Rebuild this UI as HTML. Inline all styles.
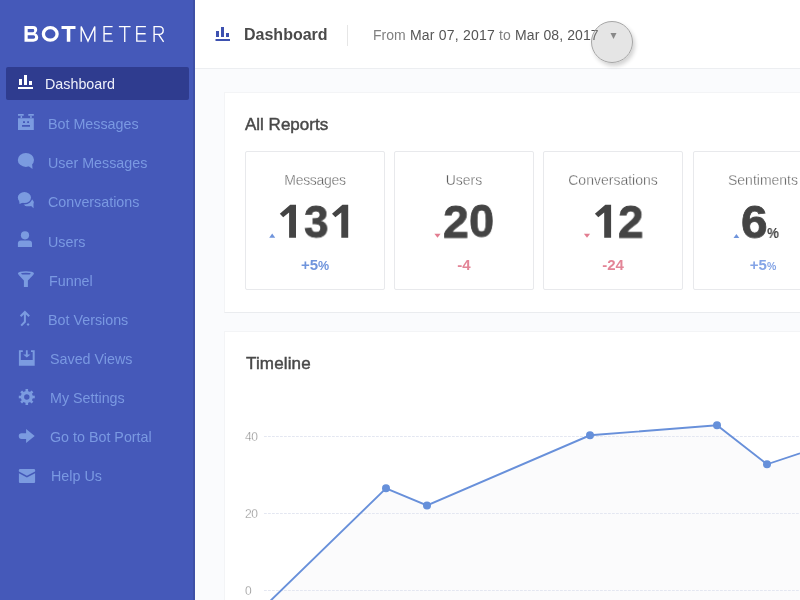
<!DOCTYPE html>
<html><head><meta charset="utf-8">
<style>
*{margin:0;padding:0;box-sizing:border-box}
html,body{width:800px;height:600px;overflow:hidden;background:#fafbfd;font-family:"Liberation Sans",sans-serif}
.a{position:absolute;white-space:nowrap}
.a,.mi,.h2,.h3,.st,.sn,.sd,.yl{will-change:transform}
#side{position:absolute;left:0;top:0;width:195px;height:600px;background:#4559b9}
#side .edge{position:absolute;right:0;top:0;width:2px;height:600px;background:#3e50a6}
.active{position:absolute;left:6px;top:67px;width:183px;height:33px;background:#2f3c8f;border-radius:2px}
.mi{position:absolute;font-size:14.3px;color:#7a99e2;white-space:nowrap;line-height:14px}
.mi.on{color:#eef0fa}
svg.ov{position:absolute;left:0;top:0}
#header{position:absolute;left:195px;top:0;width:605px;height:69px;background:#fff;border-bottom:1px solid #eceef1}
.t14{font-size:14px;line-height:14px}
.card{position:absolute;background:#fff}
.stat{position:absolute;top:151px;width:140px;height:139px;border:1px solid #e8e9ec;border-radius:2px;background:#fff}
.st{position:absolute;top:173px;width:140px;text-align:center;font-size:14px;line-height:14px;color:#555;-webkit-text-stroke:0.35px #fff}
.sn{position:absolute;top:201px;font-size:47px;line-height:40px;font-weight:bold;color:#444;-webkit-text-stroke:0.8px #444}
.sd{position:absolute;top:257.5px;width:140px;text-align:center;font-size:15px;line-height:14px;font-weight:bold}
.sd small{font-size:12.5px}
.up{color:#6f94dc}
.dn{color:#e38597}
.h2{position:absolute;font-size:16px;line-height:16px;font-weight:bold;color:#444;white-space:nowrap}
.h3{position:absolute;font-size:17px;line-height:16px;color:#484848;-webkit-text-stroke:0.45px #484848;white-space:nowrap}
.yl{position:absolute;font-size:12px;line-height:12px;color:#7a7a7a;-webkit-text-stroke:0.35px #fff;letter-spacing:-0.5px}
</style></head><body>
<div id="side">
  <div class="edge"></div>
  <div class="active"></div>
  <div class="mi on" style="left:45px;top:76.6px">Dashboard</div>
  <div class="mi" style="left:48px;top:116.5px">Bot Messages</div>
  <div class="mi" style="left:48px;top:156px">User Messages</div>
  <div class="mi" style="left:48px;top:195px">Conversations</div>
  <div class="mi" style="left:48px;top:235px">Users</div>
  <div class="mi" style="left:49px;top:274px">Funnel</div>
  <div class="mi" style="left:48px;top:312.5px">Bot Versions</div>
  <div class="mi" style="left:50px;top:352px">Saved Views</div>
  <div class="mi" style="left:50px;top:391px">My Settings</div>
  <div class="mi" style="left:50px;top:430px">Go to Bot Portal</div>
  <div class="mi" style="left:51px;top:469px">Help Us</div>
  <svg class="ov" width="195" height="600" viewBox="0 0 195 600">
    <!-- logo -->
    <g fill="#fff">
      <path fill-rule="evenodd" d="M24.5 26H33C36 26 37.2 27.6 37.2 29.6C37.2 31.2 36.4 32.4 35.3 33.5C37.1 34.1 38.2 35.5 38.2 37.6C38.2 40.2 36.4 41.75 33.3 41.75H24.5Z M27.7 29H33C33.9 29 34.2 29.7 34.2 30.6C34.2 31.6 33.9 32.25 33 32.25H27.7Z M27.7 35.25H33.5C34.5 35.25 35.1 36 35.1 37C35.1 38 34.5 38.75 33.5 38.75H27.7Z"/>
      <rect x="61.5" y="26" width="14" height="3"/>
      <rect x="66.8" y="26" width="3.5" height="15.75"/>
    </g>
    <ellipse cx="50.25" cy="33.9" rx="6.85" ry="6.3" fill="none" stroke="#fff" stroke-width="3.3"/>
    <g fill="none" stroke="#fff" stroke-width="1.35">
      <path d="M81.2 41.75V26.6L88 41.1L94.8 26.6V41.75" stroke-linejoin="miter"/>
      <path d="M112.6 26.65H104.05V41.1H112.8M104.05 33.75H111.7"/>
      <path d="M118.9 26.65H130.6M124.75 26.65V41.9"/>
      <path d="M145.9 26.65H136.8V41.1H146.2M136.8 33.75H145.6"/>
      <path d="M154.1 41.9V26.65H159.3C162 26.65 163.2 28.4 163.2 30.6C163.2 32.9 161.8 34.4 159.3 34.4H154.1M158.6 34.4L163.6 41.9"/>
    </g>
    <!-- dashboard -->
    <g fill="#fff">
      <rect x="19" y="79" width="3" height="6"/>
      <rect x="24" y="75" width="3" height="10"/>
      <rect x="29" y="81" width="3" height="4"/>
      <rect x="18" y="87" width="15" height="2"/>
    </g>
    <g fill="#7b9be0">
      <!-- robot -->
      <path fill-rule="evenodd" d="M18 114h5.7v1.7H18z M28.3 114h5.5v1.7h-5.5z M20.6 115.5h1.5v3h-1.5z M30.2 115.5h1.5v3h-1.5z M18 118.2h15.8V130H18z M23 121.2h2v1.8h-2z M27.2 121.2h1.8v1.8h-1.8z M22 125h8v1.8h-8z"/>
      <!-- user message bubble -->
      <ellipse cx="25.9" cy="159.9" rx="8.1" ry="7"/>
      <path d="M27 165 L32.5 169 L32 162z"/>
      <!-- conversations -->
      <ellipse cx="28.3" cy="202.3" rx="5.3" ry="4"/>
      <path d="M30 205 L33.6 208.3 L33.4 201z"/>
      <ellipse cx="24.4" cy="197.6" rx="7.3" ry="6.2" stroke="#4559b9" stroke-width="1.4"/>
      <path d="M19.2 200.5 L19.5 204 L23 202.5z"/>
      <!-- users -->
      <circle cx="25" cy="235.3" r="4.1"/>
      <path d="M17.9 247 V243.5 Q17.9 240.5 21 240.5 H29 Q32 240.5 32 243.5 V247z"/>
      <!-- funnel -->
      <ellipse cx="25.95" cy="273.6" rx="8.05" ry="2.45"/><path d="M18.3 274.4 L23.9 280.5 V287 H27.9 V280.5 L33.6 274.4z"/><ellipse cx="25.9" cy="273.65" rx="4.8" ry="0.85" fill="#4559b9"/>
      <!-- saved views -->
      <path d="M18.9 350.2h3.9v1.8h-2v7.9h11.9V352h-1.7v-1.8h3.7v15.6H18.9z"/>
      <path d="M25.9 350.2h1.8v4.4h2.8L26.8 357.4 23.2 354.6h2.7z"/>
      <!-- arrow -->
      <path d="M21.6 433.2 H26.1 V429 L34.7 436 L26.1 443 V438.9 H21.6 A2.85 2.85 0 0 1 21.6 433.2z"/>
      <!-- envelope -->
      <path d="M20 469.1 H34 Q35.1 469.1 35.1 470.2 V471.4 L26.9 475.8 L18.9 471.4 V470.2 Q18.9 469.1 20 469.1z"/>
      <path d="M18.9 473.2 L26.9 477.6 L35.1 473.2 V481.9 Q35.1 483 34 483 H20 Q18.9 483 18.9 481.9z"/>
    </g>
    <g stroke="#7b9be0" stroke-width="2" fill="none">
      <!-- bot versions -->
      <path d="M20.6 316.3 L24.9 312 L29.2 316.3 M24.9 312.5 V321.8 L21.2 325.6 M27.3 323.7 L28.8 325.3"/>
    </g>
    <g fill="#7b9be0" transform="translate(26.8 397)">
      <path fill-rule="evenodd" d="M0 -6.1 A6.1 6.1 0 1 1 0 6.1 A6.1 6.1 0 1 1 0 -6.1z M0 -2.7 A2.7 2.7 0 1 0 0 2.7 A2.7 2.7 0 1 0 0 -2.7z"/>
      <rect x="-1.3" y="-8" width="2.6" height="3" transform="rotate(0)"/><rect x="-1.3" y="-8" width="2.6" height="3" transform="rotate(45)"/><rect x="-1.3" y="-8" width="2.6" height="3" transform="rotate(90)"/><rect x="-1.3" y="-8" width="2.6" height="3" transform="rotate(135)"/><rect x="-1.3" y="-8" width="2.6" height="3" transform="rotate(180)"/><rect x="-1.3" y="-8" width="2.6" height="3" transform="rotate(225)"/><rect x="-1.3" y="-8" width="2.6" height="3" transform="rotate(270)"/><rect x="-1.3" y="-8" width="2.6" height="3" transform="rotate(315)"/>
    </g>
  </svg>
</div>

<div id="header"></div>
<svg class="ov" width="800" height="68" viewBox="0 0 800 68">
  <g fill="#3d51b0">
    <rect x="216" y="31" width="3" height="6"/>
    <rect x="221" y="27" width="3" height="10"/>
    <rect x="226" y="33" width="3" height="4"/>
    <rect x="215.5" y="39" width="14.5" height="2"/>
  </g>
  <rect x="347" y="25" width="1" height="21" fill="#e6e6e6"/>
</svg>
<div class="a h2" style="left:244px;top:27px;color:#4a4a4a">Dashboard</div>
<div class="a t14" style="left:373px;top:28px;color:#808080">From</div>
<div class="a t14" style="left:409.75px;top:28px;color:#555;letter-spacing:0.2px">Mar 07, 2017</div>
<div class="a t14" style="left:499px;top:28px;color:#808080">to</div>
<div class="a t14" style="left:514.5px;top:28px;color:#555;letter-spacing:0.1px">Mar 08, 2017</div>

<!-- All Reports card -->
<div class="card" style="left:224px;top:92px;width:600px;height:221px;border:1px solid #f3f4f6;border-bottom:1px solid #eaecef"></div>
<div class="h3" style="left:245px;top:117px">All Reports</div>
<div class="stat" style="left:245px"></div>
<div class="stat" style="left:394px"></div>
<div class="stat" style="left:543px"></div>
<div class="stat" style="left:693px"></div>
<div class="st" style="left:245px;letter-spacing:-0.3px">Messages</div>
<div class="st" style="left:394px">Users</div>
<div class="st" style="left:543px">Conversations</div>
<div class="st" style="left:693px">Sentiments</div>
<div class="sn" style="left:303.62px;top:202.29px;transform-origin:1px 4px;transform:scale(0.9341,0.9810)">3</div>
<div class="sn" style="left:443.24px;top:201.54px;transform-origin:1px 4px;transform:scale(0.9838,0.9866)">2</div>
<div class="sn" style="left:468.95px;top:201.35px;transform-origin:2px 4px;transform:scale(0.9574,0.9919)">0</div>
<div class="sn" style="left:618.21px;top:201.54px;transform-origin:1px 4px;transform:scale(0.9746,0.9866)">2</div>
<div class="sn" style="left:740.64px;top:201.87px;transform-origin:1px 4px;transform:scale(1.0187,0.9935)">6</div>
<div class="sn" style="left:767.4px;top:212.9px;font-size:15px;-webkit-text-stroke:0;transform-origin:0 15px;transform:scale(0.89,1)">%</div>
<svg class="ov" width="800" height="300" viewBox="0 0 800 300"><g fill="#444"><path d="M290.25 204.85H296V237.8H289.1V212.4L283.2 217.2L279.8 213.7Z"/><path d="M342.45 204.85H348.2V237.8H341.3V212.4L335.4 217.2L332.0 213.7Z"/><path d="M605.35 204.85H611.1V237.8H604.2V212.4L598.3000000000001 217.2L594.9 213.7Z"/></g></svg>
<div class="sd up" style="left:245px">+5<small>%</small></div>
<div class="sd dn" style="left:394px">-4</div>
<div class="sd dn" style="left:543px">-24</div>
<div class="sd" style="left:693px;color:#84a4e6">+5<small style="font-size:10.5px">%</small></div>
<svg class="ov" width="800" height="300" viewBox="0 0 800 300">
  <path d="M269.2 237.7L272.2 233.6L275.2 237.7z" fill="#6f94dc"/>
  <path d="M434.4 233.7L440.6 233.7L437.5 237.7z" fill="#e27d90"/>
  <path d="M583.9 233.7L590.1 233.7L587 237.7z" fill="#e27d90"/>
  <path d="M733.5 237.9L736.4 233.9L739.3 237.9z" fill="#6f94dc"/>
</svg>

<!-- Timeline card -->
<div class="card" style="left:224px;top:331px;width:600px;height:300px;border:1px solid #f3f4f6"></div>
<div class="h3" style="left:245.5px;top:356px;letter-spacing:0.15px">Timeline</div>
<svg class="ov" width="800" height="600" viewBox="0 0 800 600">
  <path d="M255.8 615 L386 488.3 L427 505.4 L590 435.3 L717 425.3 L767 464.3 L800 453.3 V615 H255.8z" fill="#fbfbfc"/>
  <g stroke="#e4e7f1" stroke-width="1" stroke-dasharray="2.8 1.2">
    <line x1="264" y1="436.5" x2="800" y2="436.5"/>
    <line x1="264" y1="513.5" x2="800" y2="513.5"/>
    <line x1="264" y1="590.5" x2="800" y2="590.5"/>
  </g>
  <path d="M255.8 615 L386 488.3 L427 505.4 L590 435.3 L717 425.3 L767 464.3 L800 453.3" fill="none" stroke="#6890da" stroke-width="1.9"/>
  <g fill="#6690da">
    <circle cx="386" cy="488.3" r="4"/>
    <circle cx="427" cy="505.4" r="4"/>
    <circle cx="590" cy="435.3" r="4"/>
    <circle cx="717" cy="425.3" r="4"/>
    <circle cx="767" cy="464.3" r="4"/>
  </g>
</svg>
<div class="yl" style="left:245px;top:431px">40</div>
<div class="yl" style="left:245px;top:508px">20</div>
<div class="yl" style="left:245px;top:585px">0</div>

<!-- touch circle -->
<div class="a" style="left:591px;top:21px;width:42px;height:42px;border-radius:50%;background:rgba(170,170,170,0.3);border:1px solid #a5a5a5;box-shadow:2px 3px 4px rgba(0,0,0,0.18)"></div>
<svg class="ov" width="800" height="68" viewBox="0 0 800 68"><path d="M610.5 33H616.5L613.5 39z" fill="#888"/></svg>
</body></html>
